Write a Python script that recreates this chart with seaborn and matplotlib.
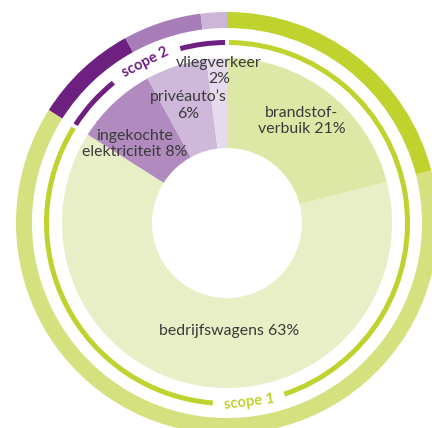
import numpy as np
import matplotlib.pyplot as plt
from matplotlib.patches import Wedge
import seaborn as sns

# data (clockwise from 12 o'clock)
labels = ["brandstof-\nverbuik 21%", "bedrijfswagens 63%", "ingekochte\nelektriciteit 8%",
          "privéauto’s\n6%", "vliegverkeer\n2%"]
shares = [21, 63, 8, 6, 2]
scope = [1, 1, 2, 2, 2]
scope_names = ["scope 1", "scope 2"]

inner_colors = ["#dee8a6", "#e8efc6", "#b18bbf", "#cfb9da", "#e6dbec"]
outer_colors = ["#bfd22e", "#d5e07f", "#6e2080", "#a77db7", "#cdb5d9"]
scope_colors = ["#bfd22e", "#6e2080"]

sns.set_theme(style="white")
plt.rcParams["font.family"] = ["Lato", "DejaVu Sans"]

fig = plt.figure(figsize=(4.32, 4.28), dpi=100)
ax = fig.add_axes([0, 0, 1, 1])
cx, cy = 227, 205

ax.pie(shares, radius=211, center=(cx, cy), colors=outer_colors, startangle=90,
       counterclock=False, wedgeprops=dict(width=16, linewidth=0))
ax.pie(shares, radius=165, center=(cx, cy), colors=inner_colors, startangle=90,
       counterclock=False, wedgeprops=dict(width=90, linewidth=0))

# slice labels (offset from centre, pixels, y down)
label_pos = [(75, -102), (2, 108), (-92, -79), (-39, -118), (-8, -152)]
for lab, (dx, dy) in zip(labels, label_pos):
    ax.text(cx + dx, cy - dy, lab, ha="center", va="center", fontsize=11.4,
            color="#3a3a3a", linespacing=1.25)

# thin scope ring
totals = [sum(s for s, g in zip(shares, scope) if g == k) for k in (1, 2)]
bounds = np.concatenate([[0], np.cumsum(totals)]) / sum(shares) * 360
label_ang = [173, 333]
half_gap = [11.5, 12]
sep = 0.6
r_thin = 183
for k in range(2):
    a, b = bounds[k] + sep, bounds[k + 1] - sep
    g0, g1 = label_ang[k] - half_gap[k], label_ang[k] + half_gap[k]
    for s, e in [(a, g0), (g1, b)]:
        ax.add_patch(Wedge((cx, cy), r_thin, 90 - e, 90 - s, width=5,
                           color=scope_colors[k], linewidth=0))
    t = np.deg2rad(label_ang[k])
    rt = r_thin - 2.5
    rot = -label_ang[k] if np.cos(t) > 0 else 180 - label_ang[k]
    ax.text(cx + rt * np.sin(t), cy + rt * np.cos(t), scope_names[k], ha="center",
            va="center", rotation=rot, rotation_mode="anchor", fontsize=10.6,
            fontweight="bold", color=scope_colors[k])

ax.set_xlim(0, 432)
ax.set_ylim(0, 428)
ax.set_aspect("equal")
ax.axis("off")
fig.savefig("out.png", dpi=100)
